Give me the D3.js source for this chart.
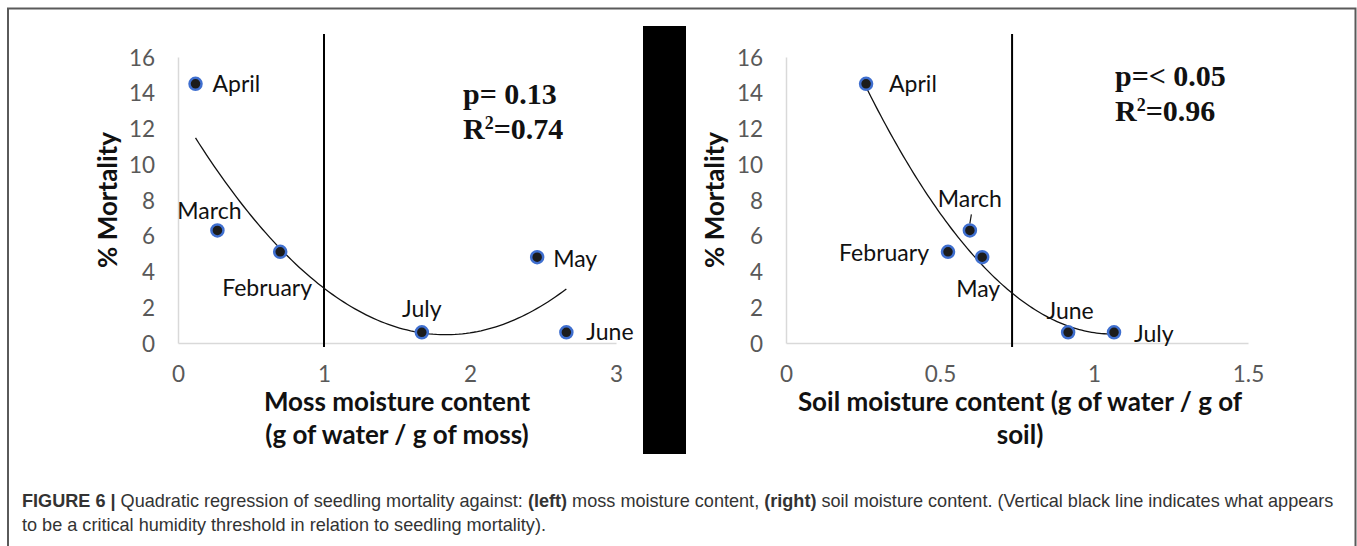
<!DOCTYPE html>
<html>
<head>
<meta charset="utf-8">
<script src="https://cdn.jsdelivr.net/npm/d3@7"></script>
<style>
  body { margin: 0; background: #fff; }
  svg { display: block; }
  .tick text { fill: #595959; font-family: Lato, "Open Sans", sans-serif; font-size: 22.5px; }
</style>
</head>
<body>
<div id="chart"></div>
<script>
// months shown in both panels
const months = ["April", "March", "February", "July", "May", "June"];
// % mortality per month (same in both panels)
const mortality = [14.5, 6.3, 5.1, 0.6, 4.8, 0.6];
// moss moisture content (g water / g moss)
const mossMoisture = [0.12, 0.27, 0.70, 1.67, 2.46, 2.66];
// soil moisture content (g water / g soil)
const soilMoisture = [0.26, 0.597, 0.526, 1.065, 0.637, 0.916];
// thresholds (vertical black lines)
const mossThreshold = 1;
const soilThreshold = 0.734;
const mossTicks = [0, 1, 2, 3];
const soilTicks = [0, 0.5, 1, 1.5];
const yTicks = [0, 2, 4, 6, 8, 10, 12, 14, 16];
const mossStats = ["p= 0.13", "0.74"];
const soilStats = ["p=< 0.05", "0.96"];

// label placement (offsets from the point, px)
const mossLabelPos = {
  April: [17, 0, "start"], March: [-8, -19, "middle"], February: [-58, 36, "start"],
  July: [0, -23, "middle"], May: [16, 2, "start"], June: [20, 0, "start"]
};
const soilLabelPos = {
  April: [23, 0, "start"], March: [0, -31, "middle"], February: [-19, 1, "end"],
  May: [-4, 32, "middle"], June: [2, -21, "middle"], July: [20, 2, "start"]
};

const W = 1357, H = 546;
const svg = d3.select("#chart").append("svg").attr("width", W).attr("height", H);

// outer frame
svg.append("path")
  .attr("d", "M8,546 L8,8.5 L1355.5,8.5 L1355.5,546")
  .attr("fill", "none").attr("stroke", "#5a5a5a").attr("stroke-width", 2);

// black separator block
svg.append("rect").attr("x", 643).attr("y", 26).attr("width", 43).attr("height", 428).attr("fill", "#000");

const y = d3.scaleLinear().domain([0, 16]).range([343, 57]);

// quadratic least squares fit  y = a + b x + c x^2
function quadFit(xs, ys) {
  const S = k => d3.sum(xs, x => Math.pow(x, k));
  const T = k => d3.sum(xs, (x, i) => Math.pow(x, k) * ys[i]);
  const M = [[S(0), S(1), S(2), T(0)], [S(1), S(2), S(3), T(1)], [S(2), S(3), S(4), T(2)]];
  for (let i = 0; i < 3; i++) {
    for (let j = i + 1; j < 3; j++) {
      const f = M[j][i] / M[i][i];
      for (let k = i; k < 4; k++) M[j][k] -= f * M[i][k];
    }
  }
  const c = new Array(3);
  for (let i = 2; i >= 0; i--) {
    let s = M[i][3];
    for (let k = i + 1; k < 3; k++) s -= M[i][k] * c[k];
    c[i] = s / M[i][i];
  }
  return x => c[0] + c[1] * x + c[2] * x * x;
}

function panel(p) {
  const g = svg.append("g");
  const x = d3.scaleLinear().domain(p.domain).range(p.range);

  // y axis
  const ya = g.append("g").attr("transform", `translate(${p.range[0]},0)`)
    .call(d3.axisLeft(y).tickValues(yTicks).tickSize(0).tickPadding(23));
  ya.select(".domain").attr("stroke", "#d9d9d9").attr("stroke-width", 1.5);
  ya.selectAll(".tick text").attr("dy", "0.36em");

  // x axis
  const xa = g.append("g").attr("transform", `translate(0,${y(0)})`)
    .call(d3.axisBottom(x).tickValues(p.ticks).tickSize(0).tickPadding(23).tickFormat(d3.format("~g")));
  xa.select(".domain").attr("stroke", "#d9d9d9").attr("stroke-width", 1.5);

  // threshold line
  g.append("line")
    .attr("x1", x(p.threshold)).attr("x2", x(p.threshold))
    .attr("y1", 34).attr("y2", 347)
    .attr("stroke", "#000").attr("stroke-width", 2);

  // trend line
  const f = quadFit(p.xs, mortality);
  const x0 = d3.min(p.xs), x1 = d3.max(p.xs);
  const pts = d3.range(0, 101).map(i => x0 + (x1 - x0) * i / 100);
  g.append("path")
    .attr("d", d3.line().x(d => x(d)).y(d => y(f(d)))(pts))
    .attr("fill", "none").attr("stroke", "#111").attr("stroke-width", 1.3);

  // points
  g.selectAll("circle").data(months).join("circle")
    .attr("cx", (d, i) => x(p.xs[i]))
    .attr("cy", (d, i) => y(mortality[i]))
    .attr("r", 6)
    .attr("fill", "#1c1c1c")
    .attr("stroke", "#3f6fcf").attr("stroke-width", 2.5);

  // month labels
  g.selectAll("text.lbl").data(months).join("text")
    .attr("class", "lbl")
    .attr("x", (d, i) => x(p.xs[i]) + p.labels[d][0])
    .attr("y", (d, i) => y(mortality[i]) + p.labels[d][1])
    .attr("dy", "0.35em")
    .attr("text-anchor", d => p.labels[d][2])
    .attr("font-family", "Lato, 'Open Sans', sans-serif")
    .attr("font-size", 23).attr("fill", "#111")
    .text(d => d);

  if (p.leader) {
    const i = months.indexOf("March");
    g.append("line")
      .attr("x1", x(p.xs[i])).attr("y1", y(mortality[i]) - 7)
      .attr("x2", x(p.xs[i]) + 1.5).attr("y2", y(mortality[i]) - 16)
      .attr("stroke", "#111").attr("stroke-width", 1.2);
  }

  // y axis title
  g.append("text")
    .attr("transform", `translate(${p.yTitleX},200) rotate(-90)`)
    .attr("text-anchor", "middle").attr("dy", "0.35em")
    .attr("font-family", "Lato, 'Open Sans', sans-serif")
    .attr("font-weight", "bold").attr("font-size", 26).attr("fill", "#111")
    .text("% Mortality");

  // x axis title
  p.xTitle.forEach((t, k) => {
    g.append("text")
      .attr("x", p.xTitleX).attr("y", 411 + k * 33)
      .attr("text-anchor", "middle")
      .attr("font-family", "Lato, 'Open Sans', sans-serif")
      .attr("font-weight", "bold").attr("font-size", 26).attr("fill", "#111")
      .text(t);
  });

  // stats
  const st = g.append("g")
    .attr("font-family", "'Liberation Serif', 'DejaVu Serif', serif")
    .attr("font-weight", "bold").attr("font-size", 30).attr("fill", "#111");
  st.append("text").attr("x", p.statX).attr("y", p.statY).text(p.stats[0]);
  const r2 = st.append("text").attr("x", p.statX).attr("y", p.statY + 35);
  r2.append("tspan").text("R");
  r2.append("tspan").attr("font-size", 18).attr("dy", -10).text("2");
  r2.append("tspan").attr("dy", 10).text("=" + p.stats[1]);
}

panel({
  domain: [0, 3], range: [178, 616], ticks: mossTicks, xs: mossMoisture,
  threshold: mossThreshold, labels: mossLabelPos, stats: mossStats,
  statX: 463, statY: 104, yTitleX: 108, xTitleX: 397,
  xTitle: ["Moss moisture content", "(g of water / g of moss)"]
});
panel({
  domain: [0, 1.5], range: [786, 1248], ticks: soilTicks, xs: soilMoisture,
  threshold: soilThreshold, labels: soilLabelPos, stats: soilStats, leader: true,
  statX: 1115, statY: 86, yTitleX: 715, xTitleX: 1020,
  xTitle: ["Soil moisture content (g of water / g of", "soil)"]
});

// caption
const cap = svg.append("g")
  .attr("font-family", "'Liberation Sans', Arial, sans-serif")
  .attr("font-size", 18.1).attr("fill", "#333");
const l1 = cap.append("text").attr("x", 22).attr("y", 507);
l1.append("tspan").attr("font-weight", "bold").text("FIGURE 6 | ");
l1.append("tspan").text("Quadratic regression of seedling mortality against: ");
l1.append("tspan").attr("font-weight", "bold").text("(left)");
l1.append("tspan").text(" moss moisture content, ");
l1.append("tspan").attr("font-weight", "bold").text("(right)");
l1.append("tspan").text(" soil moisture content. (Vertical black line indicates what appears");
cap.append("text").attr("x", 22).attr("y", 531)
  .text("to be a critical humidity threshold in relation to seedling mortality).");
</script>
</body>
</html>
